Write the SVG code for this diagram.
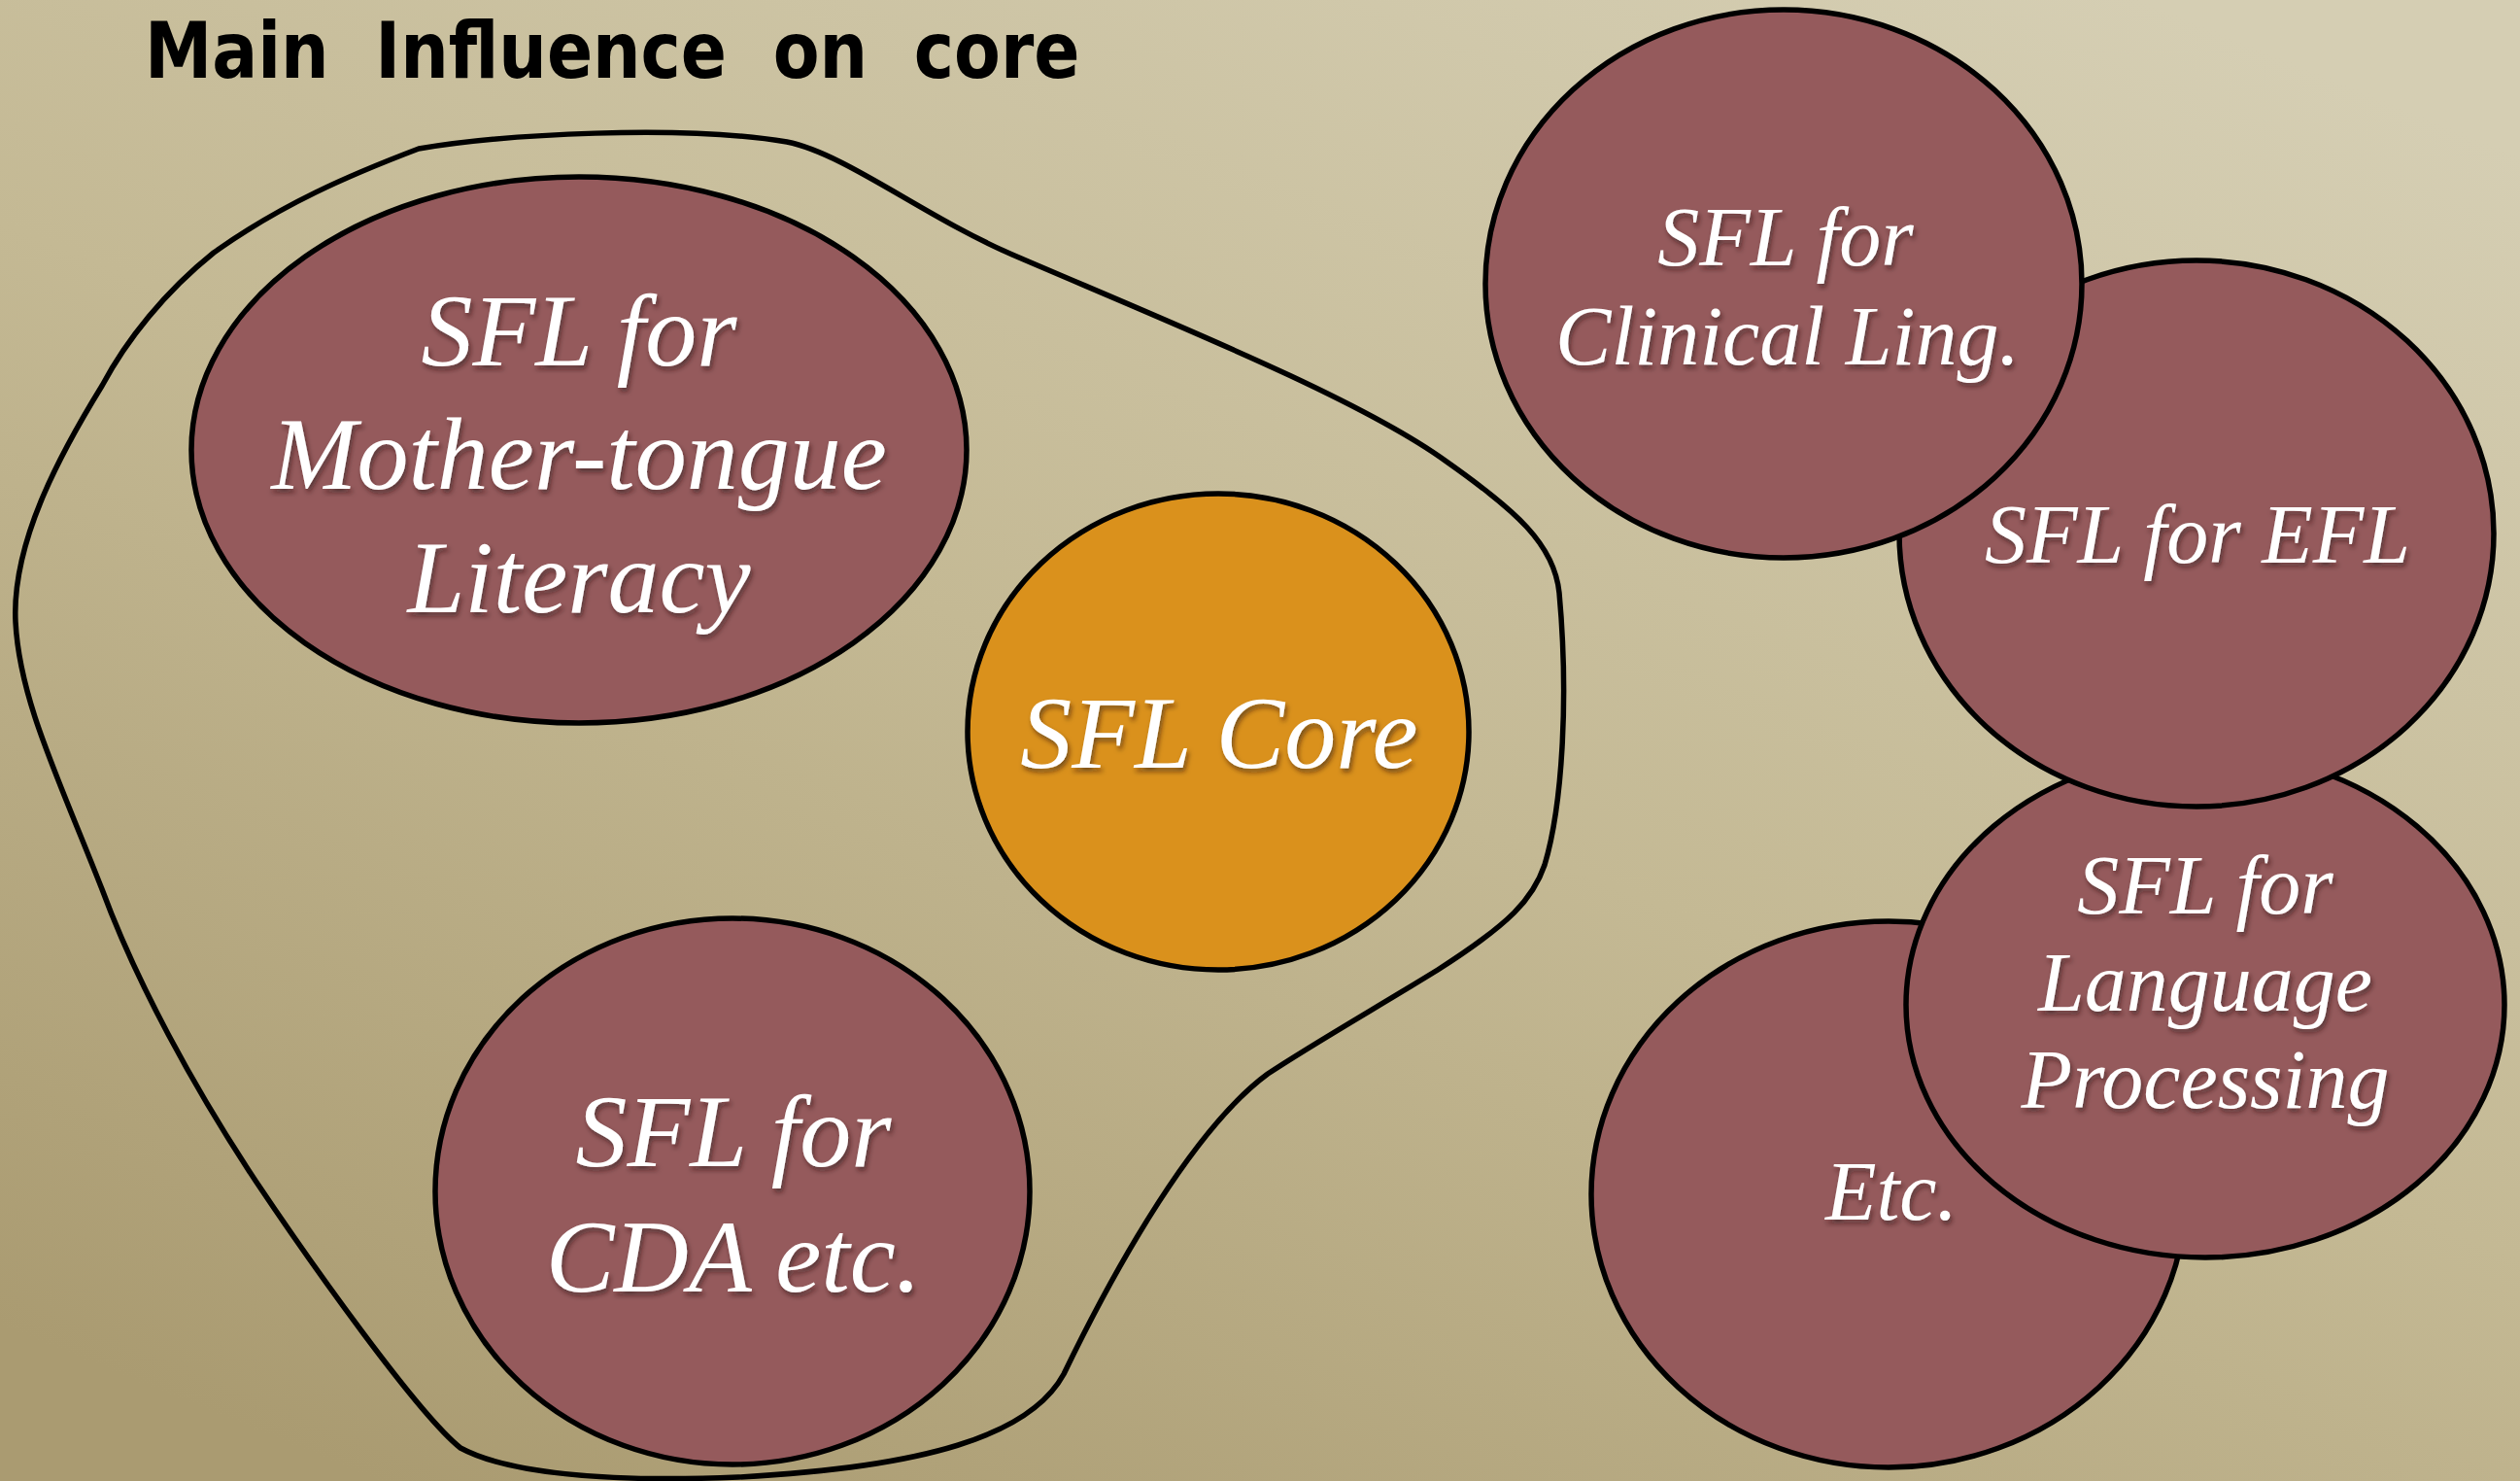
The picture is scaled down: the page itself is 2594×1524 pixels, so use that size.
<svg xmlns="http://www.w3.org/2000/svg" width="2594" height="1524" viewBox="0 0 2594 1524">
  <defs>
    <linearGradient id="paper" x1="0.85" y1="0" x2="0.15" y2="1">
      <stop offset="0" stop-color="#d5ceb3"/>
      <stop offset="0.5" stop-color="#c4b994"/>
      <stop offset="1" stop-color="#aa9b71"/>
    </linearGradient>
    <filter id="shadow" x="-10%" y="-20%" width="120%" height="150%">
      <feDropShadow dx="2" dy="4" stdDeviation="2.5" flood-color="#2a1010" flood-opacity="0.55"/>
    </filter>
    <style>
      .bubble { fill: #955a5c; stroke: #000; stroke-width: 5.5; }
      .core { fill: #da911c; stroke: #000; stroke-width: 5.5; }
      .label { font-family: "Liberation Serif", "Times New Roman", serif; font-style: italic; fill: #fff; text-anchor: middle; filter: url(#shadow); }
      .big { font-size: 106px; }
      .small { font-size: 86px; }
      .title { font-family: "DejaVu Sans", sans-serif; font-weight: bold; font-size: 80px; word-spacing: 27px; fill: #000; }
      .outline { fill: none; stroke: #000; stroke-width: 5.5; stroke-linejoin: round; }
    </style>
  </defs>

  <rect width="2594" height="1524" fill="url(#paper)"/>

  <text class="title" transform="translate(149,80) scale(0.87,1)" x="0" y="0">Main Influence on core</text>

  <!-- grouping boundary around the core and its closest applications -->
  <g id="connectors">
    <path class="outline" d="M431,153 C520,138 700,128 810,146 C870,158 950,222 1042,262 C1200,330 1400,410 1489,475 C1560,525 1600,560 1605,610 C1615,720 1608,830 1590,890 C1578,925 1555,950 1480,998 C1420,1035 1350,1075 1305,1105 C1230,1160 1150,1300 1095,1414 C1060,1478 950,1510 760,1520 C620,1526 520,1515 474,1490 C430,1455 320,1300 263,1215 C200,1120 140,1010 105,915 C60,800 20,720 16,640 C12,560 60,470 105,397 C130,350 170,300 220,260 C290,210 360,180 431,153 Z"/>
  </g>

  <g id="mother-tongue">
    <ellipse class="bubble" cx="596" cy="463" rx="399" ry="281"/>
    <text class="label big" x="596" y="376">SFL for</text>
    <text class="label big" x="596" y="503">Mother-tongue</text>
    <text class="label big" x="596" y="630">Literacy</text>
  </g>

  <g id="core">
    <ellipse class="core" cx="1254" cy="753" rx="258" ry="245"/>
    <text class="label big" x="1255" y="790">SFL Core</text>
  </g>

  <g id="cda">
    <ellipse class="bubble" cx="754" cy="1226" rx="306" ry="281"/>
    <text class="label big" x="755" y="1200">SFL for</text>
    <text class="label big" x="755" y="1329">CDA etc.</text>
  </g>

  <g id="etc">
    <ellipse class="bubble" cx="1944" cy="1229" rx="306" ry="281"/>
    <text class="label small" x="1947" y="1255">Etc.</text>
  </g>

  <g id="language-processing">
    <ellipse class="bubble" cx="2270" cy="1034" rx="308" ry="260"/>
    <text class="label small" x="2270" y="940">SFL for</text>
    <text class="label small" x="2270" y="1040">Language</text>
    <text class="label small" x="2270" y="1140">Processing</text>
  </g>

  <g id="efl">
    <ellipse class="bubble" cx="2261" cy="549" rx="306" ry="281"/>
    <text class="label small" x="2262" y="579">SFL for EFL</text>
  </g>

  <g id="clinical">
    <ellipse class="bubble" cx="1836" cy="292" rx="307" ry="282"/>
    <text class="label small" x="1838" y="273">SFL for</text>
    <text class="label small" x="1840" y="375">Clinical Ling.</text>
  </g>
</svg>
